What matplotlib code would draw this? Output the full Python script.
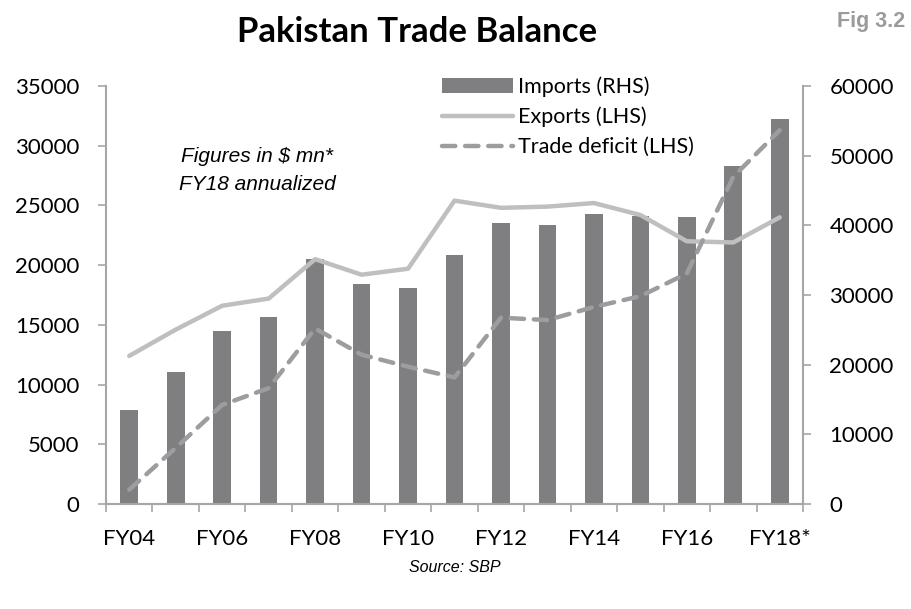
import matplotlib
matplotlib.use("Agg")
import matplotlib.pyplot as plt
from matplotlib.lines import Line2D
from matplotlib.patches import Patch
import numpy as np

categories = ["FY04", "FY05", "FY06", "FY07", "FY08", "FY09", "FY10", "FY11",
              "FY12", "FY13", "FY14", "FY15", "FY16", "FY17", "FY18*"]
imports_rhs = [13500, 18900, 24800, 26800, 35200, 31600, 31000, 35700,
               40300, 40100, 41600, 41300, 41200, 48500, 55200]
exports_lhs = [12400, 14600, 16600, 17200, 20500, 19200, 19700, 25400,
               24800, 24900, 25200, 24200, 22000, 21900, 24000]
deficit_lhs = [1200, 4700, 8300, 9700, 14700, 12500, 11500, 10600,
               15600, 15400, 16500, 17400, 19300, 27400, 31300]
left_ticks = [0, 5000, 10000, 15000, 20000, 25000, 30000, 35000]
right_ticks = [0, 10000, 20000, 30000, 40000, 50000, 60000]

FONT = "Lato"
W, H = 911, 609
fig = plt.figure(figsize=(W / 100, H / 100), dpi=100)
axL = fig.add_axes([106 / W, 1 - 504 / H, (803 - 106) / W, (504 - 86) / H])
axR = axL.twinx()
axL.set_zorder(axR.get_zorder() + 1)
axL.patch.set_visible(False)

x = np.arange(len(categories))
bar_c = "#7f7f82"
exp_c = "#bfbfbf"
def_c = "#9d9d9f"
spine_c = "#a6a6a6"

axR.bar(x, imports_rhs, width=0.38, color=bar_c, zorder=1)
axL.plot(x, exports_lhs, color=exp_c, lw=3.2, solid_capstyle="round", zorder=3)
axL.plot(x, deficit_lhs, color=def_c, lw=3.2, dashes=(3, 2.2),
         dash_capstyle="round", zorder=3)

axL.set_xlim(-0.5, len(categories) - 0.5)
axL.set_ylim(0, 35000)
axR.set_ylim(0, 60000)
axL.set_yticks(left_ticks)
axR.set_yticks(right_ticks)
axL.set_yticklabels([str(v) for v in left_ticks], fontfamily=FONT, fontsize=16)
axR.set_yticklabels([str(v) for v in right_ticks], fontfamily=FONT, fontsize=16)

# x ticks: marks between categories, labels every other category
axL.set_xticks(np.arange(-0.5, len(categories), 1.0))
axL.set_xticklabels([])
axL.set_xticks(x[::2], minor=True)
axL.set_xticklabels([categories[i] for i in x[::2]], minor=True,
                    fontfamily=FONT, fontsize=16)
axL.tick_params(axis="x", which="major", length=6, width=1.2, color=spine_c,
                direction="out")
axL.tick_params(axis="x", which="minor", length=0, pad=18)
axL.tick_params(axis="y", length=6, width=1.2, color=spine_c, pad=13)
axR.tick_params(axis="y", length=6, width=1.2, color=spine_c, pad=13)
axR.tick_params(axis="x", length=0)

for ax in (axL, axR):
    ax.spines["top"].set_visible(False)
    for s in ("left", "right", "bottom"):
        ax.spines[s].set_color(spine_c)
        ax.spines[s].set_linewidth(1.5)
axR.spines["left"].set_visible(False)
axL.spines["right"].set_visible(False)

handles = [Patch(facecolor=bar_c, edgecolor="none"),
           Line2D([0], [0], color=exp_c, lw=3.2, solid_capstyle="round"),
           Line2D([0], [0], color=def_c, lw=3.2, dashes=(3, 2.2), dash_capstyle="round")]
labels = ["Imports (RHS)", "Exports (LHS)", "Trade deficit (LHS)"]
fig.legend(handles, labels, loc="upper left",
           bbox_to_anchor=(433 / W, 1 - 68 / H), frameon=False,
           prop={"family": FONT, "size": 15.5}, handlelength=3.3,
           handletextpad=0.25, labelspacing=0.45, borderaxespad=0)

fig.text(417 / W, 1 - 32 / H, "Pakistan Trade Balance", ha="center", va="center",
         fontfamily=FONT, fontweight="bold", fontsize=25)
fig.text(905 / W, 1 - 22 / H, "Fig 3.2", ha="right", va="center",
         fontfamily="Liberation Sans", fontweight="bold", fontsize=15.5,
         color="#9b9b9b")
fig.text(257 / W, 1 - 156 / H, "Figures in $ mn*", ha="center", va="center",
         fontfamily="Liberation Sans", style="italic", fontsize=15)
fig.text(257 / W, 1 - 184 / H, "FY18 annualized", ha="center", va="center",
         fontfamily="Liberation Sans", style="italic", fontsize=15)
fig.text(455 / W, 1 - 567 / H, "Source: SBP", ha="center", va="center",
         fontfamily="Liberation Sans", style="italic", fontsize=11.5)

fig.savefig("out.png", dpi=100)
